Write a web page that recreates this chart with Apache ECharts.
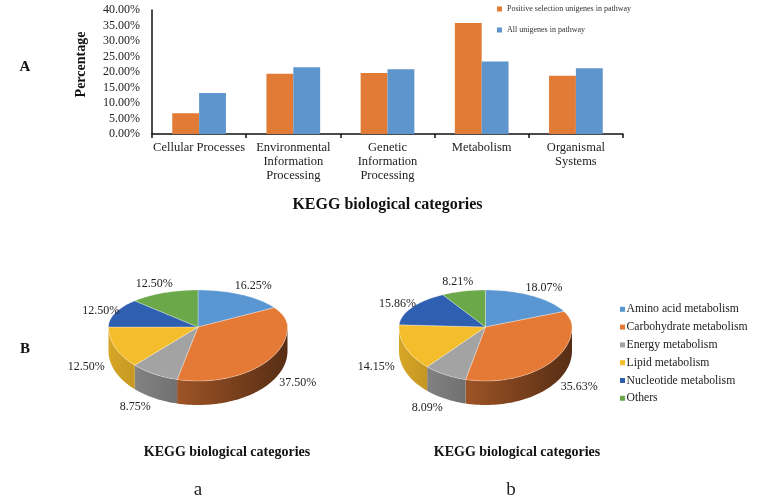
<!DOCTYPE html>
<html><head><meta charset="utf-8">
<script src="https://cdn.jsdelivr.net/npm/echarts@6/dist/echarts.min.js"></script>
<style>html,body{margin:0;padding:0;background:#fff}#c{width:759px;height:500px}</style>
</head><body><div id="c"></div>
<script>
// ---- data ----
const barCategories = ['Cellular Processes', 'Environmental\nInformation\nProcessing', 'Genetic\nInformation\nProcessing', 'Metabolism', 'Organismal\nSystems'];
const barSeriesNames = ['Positive selection unigenes in pathway', 'All unigenes in pathway'];
const positiveSelection = [6.7, 19.4, 19.7, 35.8, 18.8];
const allUnigenes = [13.2, 21.5, 20.9, 23.4, 21.2];
const yAxisMax = 40;
const yAxisStep = 5;
const pieCategories = ['Amino acid metabolism', 'Carbohydrate metabolism', 'Energy metabolism', 'Lipid metabolism', 'Nucleotide metabolism', 'Others'];
const pieAValues = [16.25, 37.50, 8.75, 12.50, 12.50, 12.50];
const pieBValues = [18.07, 35.63, 8.09, 14.15, 15.86, 8.21];
const axisTitle = 'KEGG biological categories';

// ---- styles ----
const FONT = '"Liberation Serif","Times New Roman",serif';
const barColors = ['#E27B36', '#5D95CC'];
const pieColors = ['#5A97D2', '#E57A36', '#A3A3A3', '#F4BD2B', '#2F5FB0', '#6AA84A'];
const pieGeom = [
  { cx: 198, cy: 327, rx: 89.5 },
  { cx: 485.5, cy: 327, rx: 86.5 }
];
const RY_BACK = 37, RY_FRONT = 54, DEPTH = 24;

function darken(hex, f) {
  const n = parseInt(hex.slice(1), 16);
  const r = Math.round(((n >> 16) & 255) * f), g = Math.round(((n >> 8) & 255) * f), b = Math.round((n & 255) * f);
  return 'rgb(' + r + ',' + g + ',' + b + ')';
}
function pt(g, t) {
  const a = t * Math.PI * 2, s = Math.sin(a), c = Math.cos(a);
  return [g.cx + g.rx * s, g.cy - (c > 0 ? RY_BACK : RY_FRONT) * c];
}
function makePieRender(values, g) {
  const total = values.reduce((s, v) => s + v, 0);
  const cum = [0];
  values.forEach(v => cum.push(cum[cum.length - 1] + v));
  return function (params, api) {
    const i = params.dataIndex;
    const val = api.value(0);
    const t1 = cum[i] / total, t2 = (cum[i] + val) / total;
    const base = pieColors[i];
    const children = [];
    const top = [[g.cx, g.cy]];
    const n = Math.max(2, Math.ceil((t2 - t1) * 200));
    for (let k = 0; k <= n; k++) top.push(pt(g, t1 + (t2 - t1) * k / n));
    children.push({ type: 'polygon', shape: { points: top }, z2: 20,
      style: { fill: base, stroke: 'rgba(255,255,255,0.5)', lineWidth: 0.6 } });
    const a = Math.max(t1, 0.25), b = Math.min(t2, 0.75);
    if (b > a) {
      const up = [];
      const m = Math.max(2, Math.ceil((b - a) * 200));
      for (let k = 0; k <= m; k++) up.push(pt(g, a + (b - a) * k / m));
      const down = up.slice().reverse().map(p => [p[0], p[1] + DEPTH]);
      children.push({ type: 'polygon', shape: { points: up.concat(down) }, z2: 5,
        style: { fill: { type: 'linear', x: g.cx - g.rx, y: 0, x2: g.cx + g.rx, y2: 0, global: true,
          colorStops: [{ offset: 0, color: darken(base, 0.88) }, { offset: 1, color: darken(base, 0.38) }] } } });
    }
    // label
    const mid = (t1 + t2) / 2;
    const ang = mid * Math.PI * 2, s = Math.sin(ang), c = Math.cos(ang);
    const e = pt(g, mid);
    if (c < 0) e[1] += DEPTH * 0.5;
    let dx = g.rx * s, dy = -(c > 0 ? RY_BACK : RY_FRONT) * c;
    const L = Math.hypot(dx, dy); dx /= L; dy /= L;
    const d = (c > 0 ? -3 : 12) + Math.abs(dx) * 17 + Math.abs(dy) * 6;
    children.push({ type: 'text', x: e[0] + dx * d, y: e[1] + dy * d, z2: 30,
      style: { text: val.toFixed(2) + '%', font: '12px ' + FONT, fill: '#222', align: 'center', verticalAlign: 'middle' } });
    return { type: 'group', children };
  };
}

const graphics = [];
// panel letters and captions
graphics.push({ type: 'text', x: 25, y: 67, style: { text: 'A', font: 'bold 15px ' + FONT, fill: '#111', align: 'center', verticalAlign: 'middle' } });
graphics.push({ type: 'text', x: 25, y: 349, style: { text: 'B', font: 'bold 15px ' + FONT, fill: '#111', align: 'center', verticalAlign: 'middle' } });
graphics.push({ type: 'text', x: 227, y: 452, style: { text: axisTitle, font: 'bold 14px ' + FONT, fill: '#111', align: 'center', verticalAlign: 'middle' } });
graphics.push({ type: 'text', x: 517, y: 452, style: { text: axisTitle, font: 'bold 14px ' + FONT, fill: '#111', align: 'center', verticalAlign: 'middle' } });
graphics.push({ type: 'text', x: 198, y: 490, style: { text: 'a', font: '19px ' + FONT, fill: '#222', align: 'center', verticalAlign: 'middle' } });
graphics.push({ type: 'text', x: 511, y: 490, style: { text: 'b', font: '19px ' + FONT, fill: '#222', align: 'center', verticalAlign: 'middle' } });
// pie legend
pieCategories.forEach((name, i) => {
  const y = 309.3 + i * 17.8;
  graphics.push({ type: 'rect', shape: { x: 620, y: y - 2.5, width: 5, height: 5 }, style: { fill: pieColors[i] } });
  graphics.push({ type: 'text', x: 626.5, y: y, style: { text: name, font: '11.7px ' + FONT, fill: '#222', verticalAlign: 'middle' } });
});

const chart = echarts.init(document.getElementById('c'), null, { renderer: 'canvas' });
chart.setOption({
  animation: false,
  backgroundColor: '#fff',
  textStyle: { fontFamily: FONT },
  legend: {
    orient: 'vertical', left: 492, top: 0, itemWidth: 5, itemHeight: 5, itemGap: 13,
    data: barSeriesNames, icon: 'rect',
    textStyle: { fontSize: 8, fontFamily: FONT, color: '#333' }
  },
  grid: { left: 152, right: 136, top: 10, bottom: 366, containLabel: false },
  xAxis: {
    type: 'category', data: barCategories,
    name: axisTitle, nameLocation: 'middle', nameGap: 63,
    nameTextStyle: { fontSize: 16, fontWeight: 'bold', fontFamily: FONT, color: '#111' },
    axisLine: { lineStyle: { color: '#111', width: 1.5 } },
    axisTick: { show: true, length: 4, lineStyle: { color: '#111', width: 1.5 } },
    axisLabel: { interval: 0, fontSize: 12.5, lineHeight: 14, color: '#222', fontFamily: FONT, margin: 7 }
  },
  yAxis: {
    type: 'value', min: 0, max: yAxisMax, interval: yAxisStep,
    name: 'Percentage', nameLocation: 'middle', nameGap: 64, nameRotate: 90,
    nameTextStyle: { fontSize: 14, fontWeight: 'bold', fontFamily: FONT, color: '#111', padding: [0, 0, 0, 15] },
    axisLine: { show: true, lineStyle: { color: '#111', width: 1.5 } },
    axisTick: { show: false },
    splitLine: { show: false },
    axisLabel: { fontSize: 12, color: '#222', fontFamily: FONT, margin: 12, formatter: v => v.toFixed(2) + '%' }
  },
  series: [
    { name: barSeriesNames[0], type: 'bar', data: positiveSelection, barGap: '0%', barCategoryGap: '43%', itemStyle: { color: barColors[0] }, silent: true },
    { name: barSeriesNames[1], type: 'bar', data: allUnigenes, barGap: '0%', barCategoryGap: '43%', itemStyle: { color: barColors[1] }, silent: true },
    { name: 'Pie a', type: 'custom', coordinateSystem: 'none', silent: true,
      data: pieAValues.map((v, i) => ({ name: pieCategories[i], value: v })),
      renderItem: makePieRender(pieAValues, pieGeom[0]) },
    { name: 'Pie b', type: 'custom', coordinateSystem: 'none', silent: true,
      data: pieBValues.map((v, i) => ({ name: pieCategories[i], value: v })),
      renderItem: makePieRender(pieBValues, pieGeom[1]) }
  ],
  graphic: graphics
});
</script></body></html>
